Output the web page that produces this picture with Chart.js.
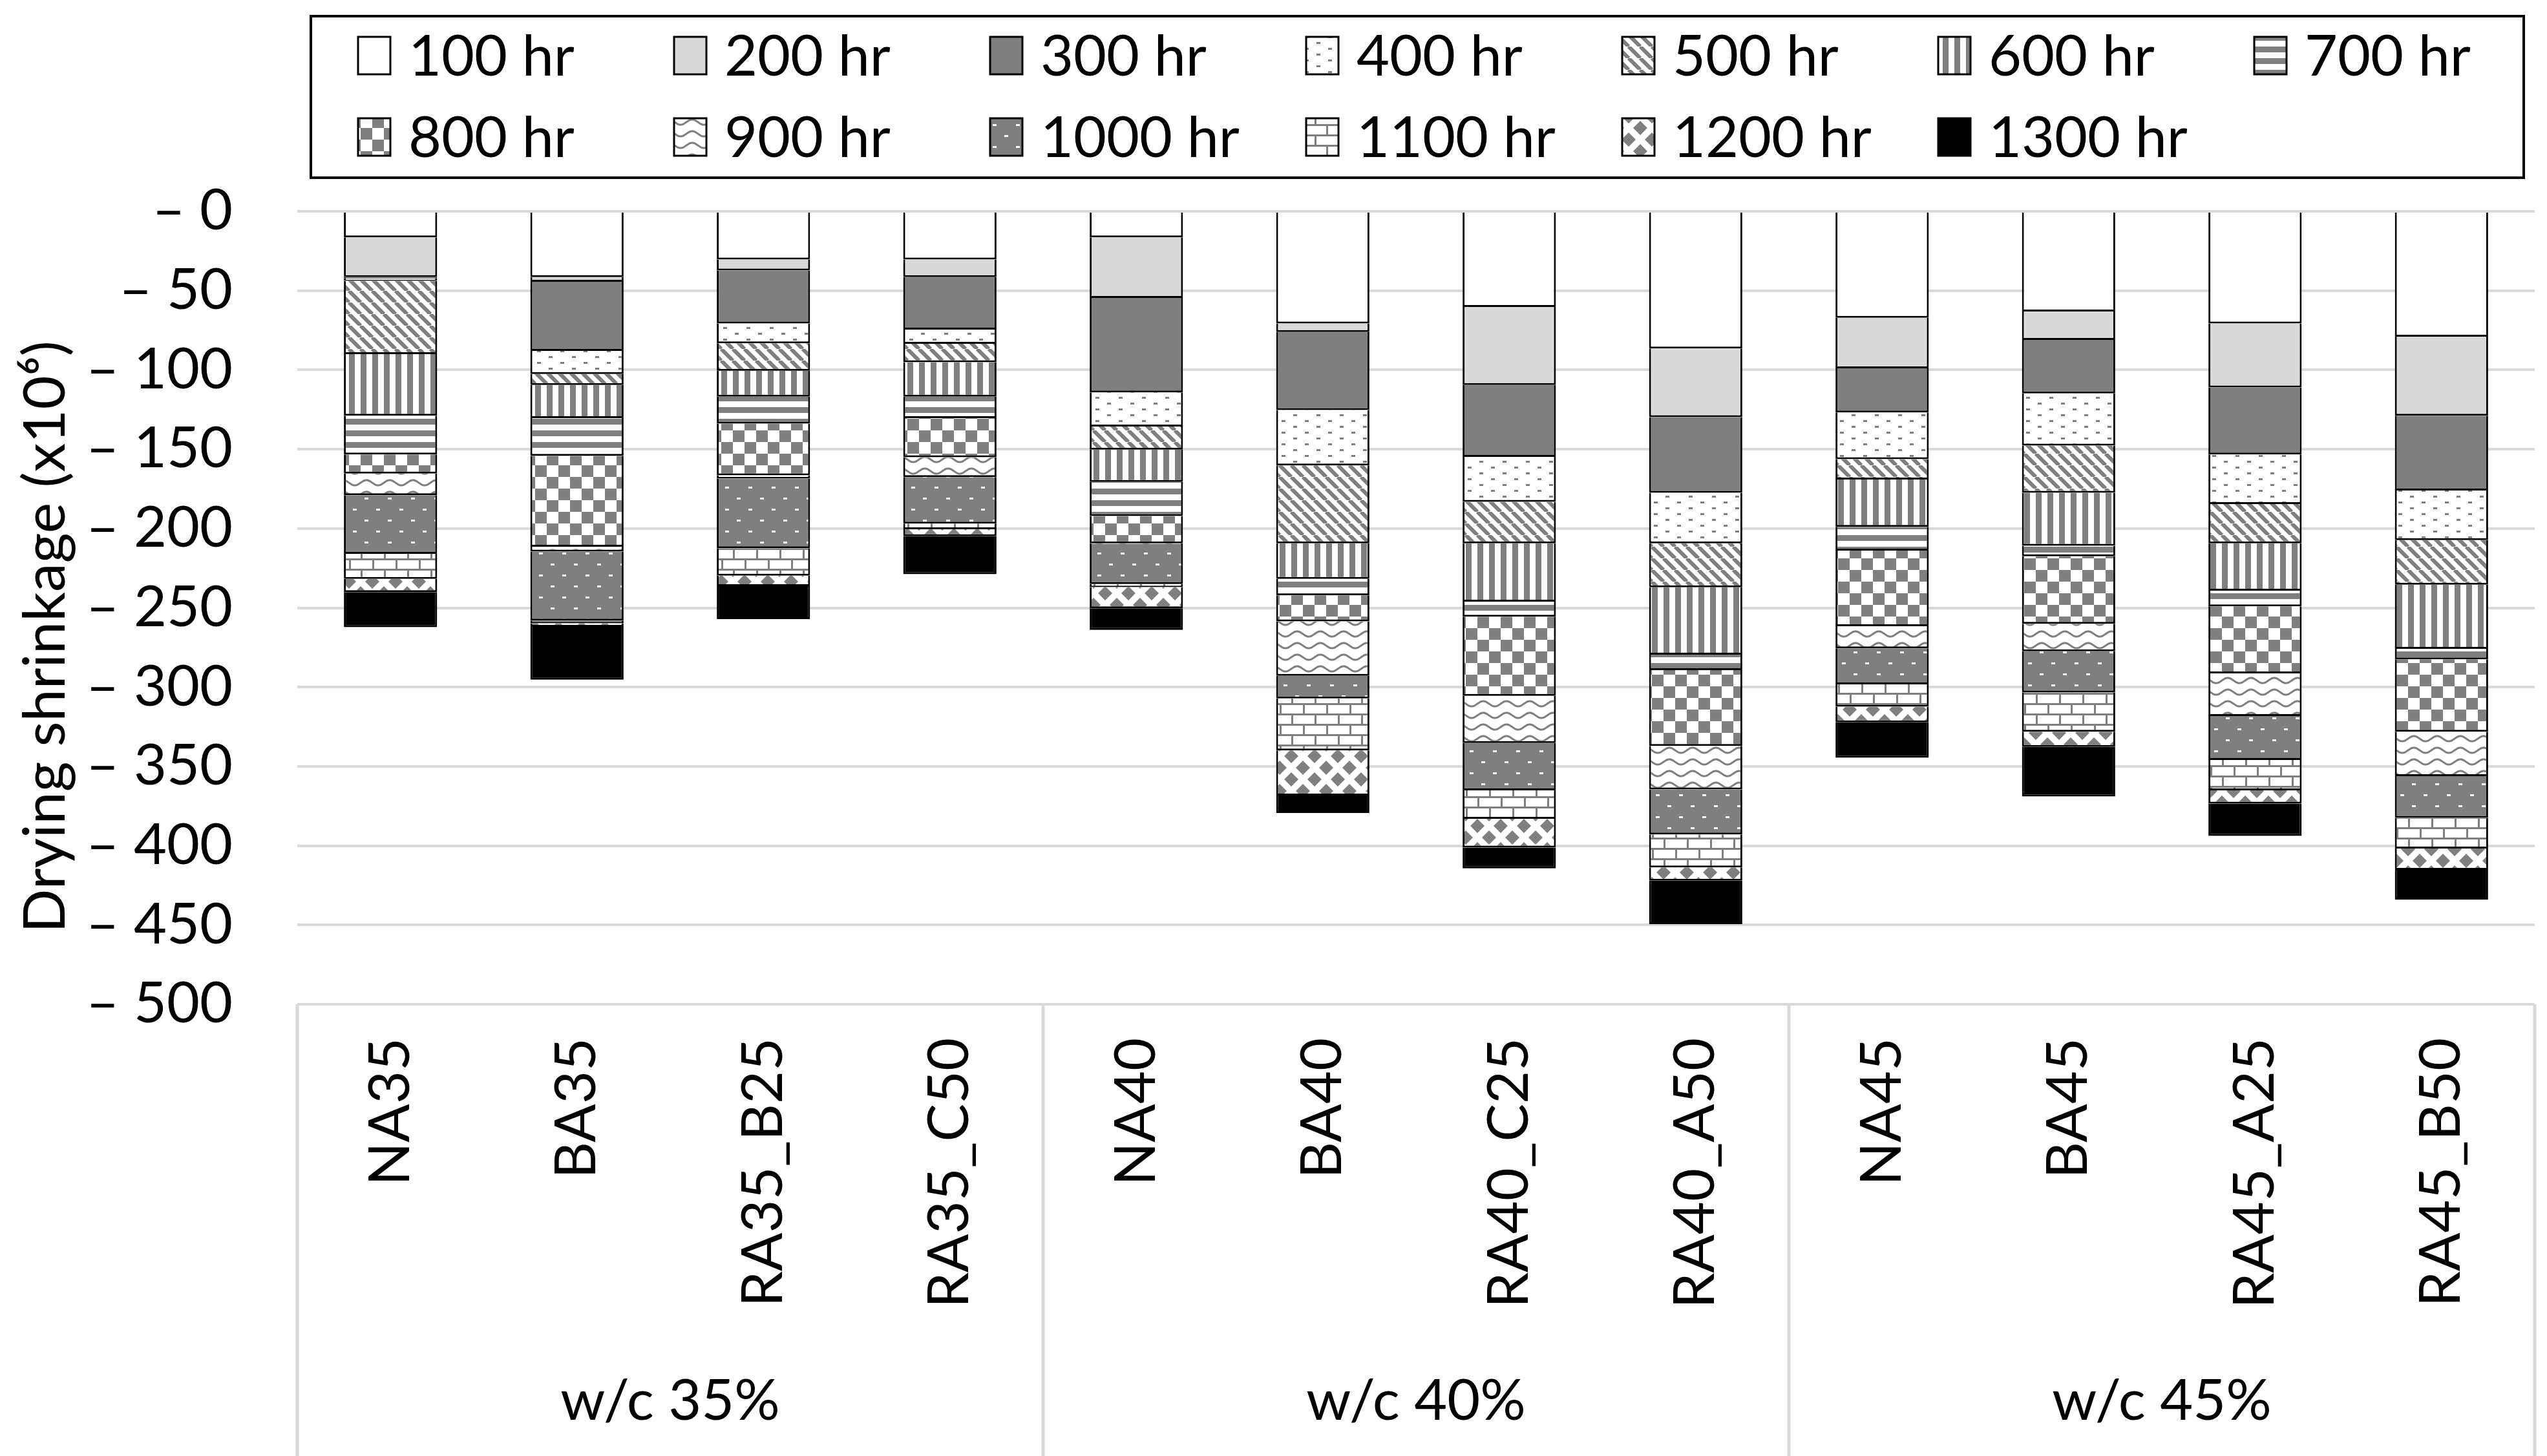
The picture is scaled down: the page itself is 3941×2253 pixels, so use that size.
<!DOCTYPE html>
<html>
<head>
<meta charset="utf-8">
<script src="https://cdn.jsdelivr.net/npm/chart.js@4.4.1/dist/chart.umd.min.js"></script>
<style>
  html, body { margin: 0; padding: 0; background: #fff; }
  #wrap { width: 3941px; height: 2253px; }
</style>
</head>
<body>
<div id="wrap"><canvas id="c" width="3941" height="2253" style="width:3941px;height:2253px"></canvas></div>
<script>
// ---------- DATA ----------
const categories = ['NA35', 'BA35', 'RA35_B25', 'RA35_C50', 'NA40', 'BA40', 'RA40_C25', 'RA40_A50', 'NA45', 'BA45', 'RA45_A25', 'RA45_B50'];
const groupLabels = ['w/c 35%', 'w/c 40%', 'w/c 45%'];
const groupSizes = [4, 4, 4];
const seriesNames = ['100 hr', '200 hr', '300 hr', '400 hr', '500 hr', '600 hr', '700 hr', '800 hr', '900 hr', '1000 hr', '1100 hr', '1200 hr', '1300 hr'];

const hr100  = [-16.4, -41.5, -30.4, -30.4, -16.4, -70.7, -60.3, -86.5, -67.1, -63.2, -70.7, -79.1];
const hr200  = [-25.1, -2.9, -6.9, -11.1, -38.2, -5.4, -49.2, -43.3, -31.9, -17.9, -40.3, -49.8];
const hr300  = [-0.8, -43.6, -33.4, -33.1, -59.6, -49.2, -45.3, -47.7, -27.8, -33.7, -42.3, -47.1];
const hr400  = [-1.5, -14.6, -12.5, -8.9, -21.5, -34.9, -28.4, -31.9, -29.5, -32.9, -31.3, -31.3];
const hr500  = [-46.3, -6.9, -17.3, -11.7, -14.6, -49.2, -26.2, -27.7, -12.8, -29.8, -24.8, -28.1];
const hr600  = [-38.8, -20.9, -16.4, -21.7, -20.3, -22.4, -36.7, -42.4, -29.9, -33.4, -29.8, -40.5];
const hr700  = [-24.4, -23.8, -17.0, -13.5, -21.5, -10.4, -9.5, -9.8, -14.9, -6.6, -9.9, -6.6];
const hr800  = [-12.0, -57.3, -32.6, -24.7, -17.3, -16.4, -49.9, -47.8, -47.7, -42.6, -42.3, -45.6];
const hr900  = [-13.7, -3.0, -2.0, -12.5, -0.5, -34.3, -29.8, -27.4, -14.0, -17.3, -26.9, -28.1];
const hr1000 = [-37.0, -43.5, -43.9, -29.3, -25.1, -14.3, -29.8, -28.4, -22.7, -26.0, -27.7, -26.2];
const hr1100 = [-15.8, -1.8, -17.3, -3.6, -2.0, -32.8, -17.9, -20.8, -14.0, -24.7, -19.1, -19.4];
const hr1200 = [-8.3, -1.8, -6.6, -4.4, -13.3, -28.4, -18.2, -8.4, -9.9, -9.6, -8.4, -13.4];
const hr1300 = [-22.1, -33.7, -20.8, -23.9, -13.7, -11.0, -13.1, -27.4, -22.3, -31.3, -20.3, -18.8];

const yTicks = [0, -50, -100, -150, -200, -250, -300, -350, -400, -450, -500];
const yTitle = 'Drying shrinkage (x10\u2076)';

// ---------- PATTERNS ----------
const canvas = document.getElementById('c');
const mainCtx = canvas.getContext('2d');
const GREY = '#7f7f7f';
function makePattern(w, h, draw) {
  const c = document.createElement('canvas');
  c.width = w; c.height = h;
  const g = c.getContext('2d');
  draw(g, w, h);
  return mainCtx.createPattern(c, 'repeat');
}
function diamond(g, cx, cy, rx, ry) {
  g.beginPath();
  g.moveTo(cx, cy - ry); g.lineTo(cx + rx, cy); g.lineTo(cx, cy + ry); g.lineTo(cx - rx, cy);
  g.closePath(); g.fill();
}
const fills = [
  '#ffffff',
  '#d9d9d9',
  '#7f7f7f',
  makePattern(36, 18, (g, w, h) => { g.fillStyle = '#fff'; g.fillRect(0, 0, w, h); g.fillStyle = GREY; g.fillRect(3, 2, 6, 3); g.fillRect(21, 11, 6, 3); }),
  makePattern(18, 18, (g, w, h) => { g.fillStyle = '#fff'; g.fillRect(0, 0, w, h); g.strokeStyle = GREY; g.lineWidth = 6; g.beginPath(); for (let k = -1; k <= 1; k++) { g.moveTo(k * 18, 0); g.lineTo(k * 18 + 18, 18); } g.stroke(); }),
  makePattern(18, 18, (g, w, h) => { g.fillStyle = '#fff'; g.fillRect(0, 0, w, h); g.fillStyle = GREY; g.fillRect(0, 0, 9, 18); }),
  makePattern(18, 18, (g, w, h) => { g.fillStyle = '#fff'; g.fillRect(0, 0, w, h); g.fillStyle = GREY; g.fillRect(0, 0, 18, 9); }),
  makePattern(36, 36, (g, w, h) => { g.fillStyle = '#fff'; g.fillRect(0, 0, w, h); g.fillStyle = GREY; g.fillRect(0, 0, 18, 18); g.fillRect(18, 18, 18, 18); }),
  makePattern(36, 18, (g, w, h) => { g.fillStyle = '#fff'; g.fillRect(0, 0, w, h); g.strokeStyle = GREY; g.lineWidth = 3; g.beginPath(); for (let x = -2; x <= 38; x += 1) { const y = 9 + 4 * Math.sin(2 * Math.PI * x / 36); if (x === -2) g.moveTo(x, y); else g.lineTo(x, y); } g.stroke(); }),
  makePattern(36, 34, (g, w, h) => { g.fillStyle = GREY; g.fillRect(0, 0, w, h); g.fillStyle = '#fff'; g.fillRect(6, 5, 6, 3); g.fillRect(24, 22, 6, 3); }),
  makePattern(36, 32, (g, w, h) => { g.fillStyle = '#fff'; g.fillRect(0, 0, w, h); g.fillStyle = GREY; g.fillRect(0, 0, 36, 3); g.fillRect(0, 16, 36, 3); g.fillRect(0, 0, 3, 16); g.fillRect(18, 16, 3, 16); }),
  makePattern(36, 36, (g, w, h) => { g.fillStyle = '#fff'; g.fillRect(0, 0, w, h); g.fillStyle = GREY; diamond(g, 18, 18, 11, 11); [[0,0],[36,0],[0,36],[36,36]].forEach(p => diamond(g, p[0], p[1], 11, 11)); }),
  '#000000'
];

const seriesData = [hr100, hr200, hr300, hr400, hr500, hr600, hr700, hr800, hr900, hr1000, hr1100, hr1200, hr1300];
const datasets = seriesData.map((d, i) => ({
  label: seriesNames[i],
  data: d,
  backgroundColor: fills[i],
  borderColor: '#000',
  borderWidth: 3,
  borderSkipped: 'start',
  stack: 's',
  categoryPercentage: 0.5,
  barPercentage: 1.0
}));

const FONT = 'Lato';

// ---------- PLUGINS ----------
const legendBox = {
  id: 'legendBox',
  afterDraw(chart) {
    const ctx = chart.ctx;
    ctx.save();
    ctx.lineWidth = 4;
    ctx.strokeStyle = '#000';
    ctx.strokeRect(481, 25, 3424, 250);
    ctx.font = '88px ' + FONT;
    ctx.textAlign = 'left';
    ctx.textBaseline = 'alphabetic';
    chart.data.datasets.forEach((ds, i) => {
      const col = i % 7, row = Math.floor(i / 7);
      const x = 554 + col * 489;
      const yc = 86 + row * 126;
      ctx.fillStyle = ds.backgroundColor;
      ctx.fillRect(x, yc - 29, 50, 58);
      ctx.lineWidth = 3;
      ctx.strokeStyle = '#000';
      ctx.strokeRect(x, yc - 29, 50, 58);
      ctx.fillStyle = '#000';
      ctx.fillText(ds.label, x + 78, yc + 31);
    });
    ctx.restore();
  }
};

const yAxisTitle = {
  id: 'yAxisTitle',
  afterDraw(chart) {
    const ctx = chart.ctx;
    const ca = chart.chartArea;
    ctx.save();
    ctx.translate(71, (ca.top + ca.bottom) / 2 + 45);
    ctx.rotate(-Math.PI / 2);
    ctx.fillStyle = '#000';
    ctx.font = '90px ' + FONT;
    ctx.textAlign = 'center';
    ctx.textBaseline = 'middle';
    ctx.fillText(yTitle, 0, 0);
    ctx.restore();
  }
};

const groupAxis = {
  id: 'groupAxis',
  afterDraw(chart) {
    const ctx = chart.ctx;
    const xs = chart.scales.x;
    const ca = chart.chartArea;
    const bounds = [ca.left];
    let idx = 0;
    groupSizes.forEach(n => {
      idx += n;
      bounds.push(idx < categories.length ? (xs.getPixelForValue(idx - 1) + xs.getPixelForValue(idx)) / 2 : ca.right);
    });
    ctx.save();
    ctx.strokeStyle = '#d9d9d9';
    ctx.lineWidth = 5;
    bounds.forEach(b => {
      ctx.beginPath();
      ctx.moveTo(b, ca.bottom);
      ctx.lineTo(b, chart.height);
      ctx.stroke();
    });
    ctx.fillStyle = '#000';
    ctx.font = '88px ' + FONT;
    ctx.textAlign = 'center';
    ctx.textBaseline = 'alphabetic';
    groupLabels.forEach((lbl, i) => {
      ctx.fillText(lbl, (bounds[i] + bounds[i + 1]) / 2, chart.height - 56);
    });
    ctx.restore();
  }
};

// ---------- CHART ----------
new Chart(mainCtx, {
  type: 'bar',
  data: { labels: categories, datasets },
  plugins: [legendBox, yAxisTitle, groupAxis],
  options: {
    responsive: false,
    animation: false,
    devicePixelRatio: 1,
    layout: { padding: { top: 327, left: 0, right: 19, bottom: 0 } },
    plugins: { legend: { display: false }, tooltip: { enabled: false }, title: { display: false } },
    scales: {
      x: {
        stacked: true,
        grid: { display: false },
        border: { display: false },
        ticks: {
          autoSkip: false, minRotation: 90, maxRotation: 90, padding: 44,
          color: '#000', font: { family: FONT, size: 88 }
        },
        afterFit(scale) { scale.height = 699; }
      },
      y: {
        stacked: true,
        min: -500, max: 0,
        afterBuildTicks(scale) { scale.ticks = yTicks.map(v => ({ value: v })); },
        grid: { color: '#d9d9d9', lineWidth: 4, drawTicks: false },
        border: { display: false },
        ticks: {
          padding: 100, color: '#000', font: { family: FONT, size: 88 },
          callback: v => '\u2013 ' + Math.abs(v)
        },
        title: { display: false },
        afterFit(scale) { scale.width = 460; }
      }
    }
  }
});
</script>
</body>
</html>
